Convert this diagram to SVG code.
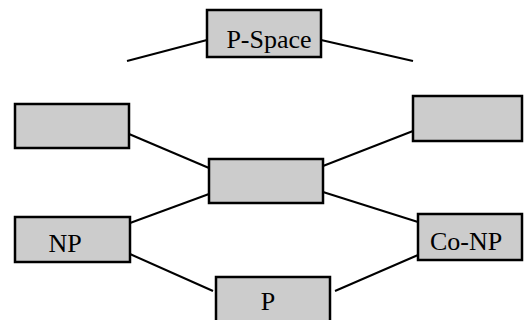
<svg xmlns="http://www.w3.org/2000/svg" width="526" height="320" viewBox="0 0 526 320">
<style>
.box{fill:#cccccc;stroke:#000;stroke-width:2.5}
.edge{stroke:#000;stroke-width:2;fill:none}
text{font-family:"Liberation Serif","Times New Roman",serif;font-size:26px;fill:#000;text-anchor:middle}
</style>
<rect width="526" height="320" fill="#fff"/>
<g id="connectors">
<line class="edge" x1="127" y1="61" x2="207" y2="40"/>
<line class="edge" x1="321" y1="40" x2="413" y2="61"/>
<line class="edge" x1="129" y1="134" x2="209" y2="168"/>
<line class="edge" x1="323" y1="166" x2="413" y2="131"/>
<line class="edge" x1="130" y1="223" x2="209" y2="194"/>
<line class="edge" x1="323" y1="192" x2="418" y2="222"/>
<line class="edge" x1="130" y1="254" x2="213" y2="291"/>
<line class="edge" x1="335" y1="291" x2="418" y2="255"/>
</g>
<g id="pspace"><rect class="box" x="207" y="10" width="114" height="47"/><text x="269" y="48">P-Space</text></g>
<g id="topleft"><rect class="box" x="15" y="104" width="114" height="44"/></g>
<g id="topright"><rect class="box" x="413" y="96" width="109" height="45"/></g>
<g id="center"><rect class="box" x="209" y="159" width="114" height="44"/></g>
<g id="np"><rect class="box" x="15" y="217" width="115" height="45"/><text x="65" y="252">NP</text></g>
<g id="conp"><rect class="box" x="418" y="214" width="104" height="46"/><text x="466" y="250">Co-NP</text></g>
<g id="p"><rect class="box" x="216" y="277" width="114" height="46"/><text x="268" y="310">P</text></g>
</svg>
